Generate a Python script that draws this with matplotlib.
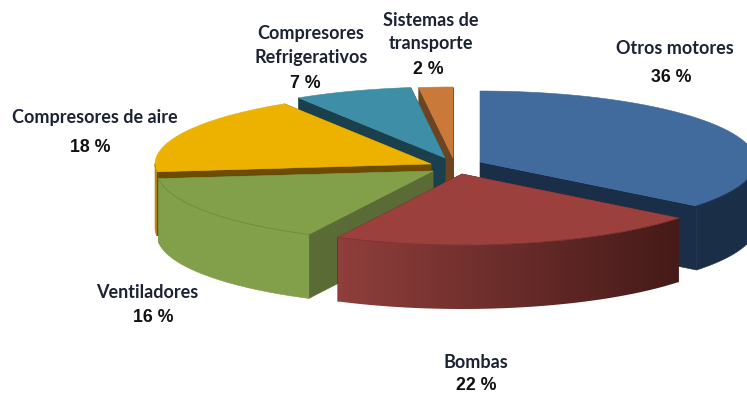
import numpy as np
import matplotlib
matplotlib.use("Agg")
import matplotlib.pyplot as plt
from matplotlib.colors import to_rgb
from matplotlib.patches import Polygon

# --- data ---
names = ["Otros motores", "Bombas", "Ventiladores", "Compresores de aire",
         "Compresores\nRefrigerativos", "Sistemas de\ntransporte"]
values = [36, 22, 16, 18, 7, 2]

# --- style / layout ---
top_colors = ["#416a9d", "#9c403e", "#82a04a", "#edb100", "#3d8ea6", "#c97a3a"]
radial_colors = ["#1a2e48", "#451a18", "#5a6b35", "#6b4c00", "#19404c", "#6e4420"]
wall_left = ["#1a2e48", "#8f3f3c", "#82a04a", "#b8860b", "#19404c", "#6e4420"]
wall_right = ["#1a2e48", "#451a18", "#82a04a", "#b8860b", "#19404c", "#6e4420"]
rim_lines = ["#1a2e48", "#7d3431", "#6f8a3e", "#b8860b", "#19404c", "#6e4420"]
centre = (445, 165)
explode_dx = [35, 17, -12, -14, 0, 8]
explode_dy = [-3, 9, 6, -1, -7, -7]
RX, RY, DEPTH = 276, 71, 64
draw_order = [5, 4, 3, 0, 2, 1]
name_xy = [(675, 49), (476, 362), (147, 292), (95, 118), (311, 45), (431, 32)]
pct_xy = [(671, 78), (476, 386), (153, 317), (90, 147), (305, 83), (428, 69)]

fractions = np.array(values) / np.sum(values) * 2 * np.pi
ends = np.cumsum(fractions)
starts = ends - fractions

fig = plt.figure(figsize=(7.47, 3.93), dpi=100)
ax = fig.add_axes([0, 0, 1, 1])


def rim(t, ax0, ay0):
    return np.column_stack([ax0 + RX * np.sin(t), ay0 - RY * np.cos(t)])


def add(pts, color, z):
    p = Polygon(pts, closed=True, facecolor=color, edgecolor=color,
                linewidth=0.4, zorder=z)
    ax.add_patch(p)
    return p


for rank, i in enumerate(draw_order):
    z = rank * 10 + 1
    ax0 = centre[0] + explode_dx[i]
    ay0 = centre[1] + explode_dy[i]
    t = np.linspace(starts[i], ends[i], 120)
    arc = rim(t, ax0, ay0)
    apex = np.array([ax0, ay0])
    down = np.array([0, DEPTH])

    # radial walls
    for p in (arc[0], arc[-1]):
        add([apex, p, p + down, apex + down], radial_colors[i], z)

    # outer wall: a horizontal colour ramp clipped to the wall's outline
    lo = max(starts[i], np.pi / 2)
    hi = min(ends[i], 3 * np.pi / 2)
    if hi > lo:
        pts = rim(np.linspace(lo, hi, 120), ax0, ay0)
        outline = np.vstack([pts, (pts + down)[::-1]])
        if wall_left[i] == wall_right[i]:
            add(outline, wall_left[i], z + 1)
        else:
            c0, c1 = np.array(to_rgb(wall_left[i])), np.array(to_rgb(wall_right[i]))
            ramp = np.linspace(0, 1, 256)[None, :, None]
            img = c0 + (c1 - c0) * ramp
            x0, x1 = outline[:, 0].min(), outline[:, 0].max()
            y0, y1 = outline[:, 1].min(), outline[:, 1].max()
            im = ax.imshow(img, extent=(x0, x1, y1, y0), aspect="auto",
                           interpolation="bilinear", zorder=z + 1)
            clip = Polygon(outline, closed=True, transform=ax.transData,
                           facecolor="none", edgecolor="none")
            ax.add_patch(clip)
            im.set_clip_path(clip)

    # top face and the faint line along its front rim
    add(np.vstack([apex, arc]), top_colors[i], z + 2)
    if hi > lo:
        ax.plot(*rim(np.linspace(lo, hi, 120), ax0, ay0).T, color=rim_lines[i],
                lw=0.6, zorder=z + 3)

ink = "#1b2233"
for i in range(len(values)):
    ax.text(*name_xy[i], names[i], family="Lato", weight="bold", fontsize=13,
            color=ink, ha="center", va="center", linespacing=1.5, zorder=200)
    ax.text(*pct_xy[i], f"{values[i]} %", family="Liberation Sans", weight="bold",
            fontsize=12.8, color="#111111", ha="center", va="center", zorder=200)

ax.set_xlim(0, 747)
ax.set_ylim(393, 0)
ax.axis("off")
fig.savefig("out.png", dpi=100, facecolor="white")
